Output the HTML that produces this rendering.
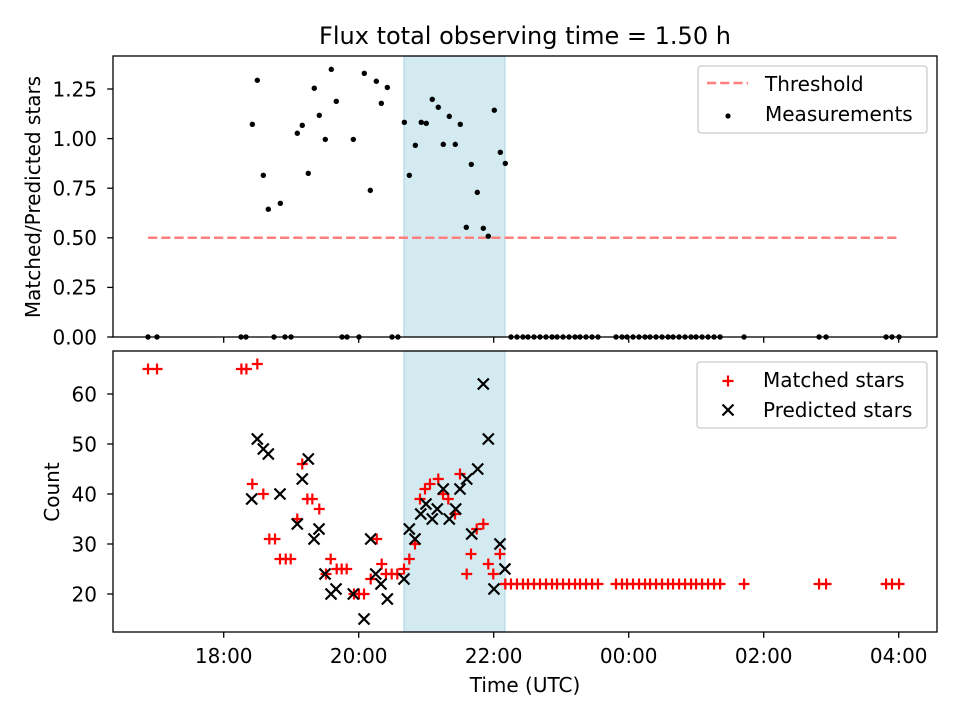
<!DOCTYPE html>
<html><head><meta charset="utf-8">
<style>
body{margin:0;background:#fff;}
svg{display:block;font-family:"DejaVu Sans","Liberation Sans",sans-serif;}
</style></head>
<body>
<svg id="fig" width="960" height="720" viewBox="0 0 960 720" xmlns="http://www.w3.org/2000/svg">
<rect width="960" height="720" fill="#fff"/>
<text x="525" y="44" font-size="24" text-anchor="middle">Flux total observing time = 1.50 h</text>
<g id="gtop"></g>
<g id="gbot"></g>
<text x="525" y="692" font-size="20" text-anchor="middle">Time (UTC)</text>
<text transform="translate(40,197) rotate(-90)" font-size="20" text-anchor="middle">Matched/Predicted stars</text>
<text transform="translate(59,492) rotate(-90)" font-size="20" text-anchor="middle">Count</text>
<g>
<rect x="698" y="66" width="229" height="67" rx="3" fill="#fff" fill-opacity="0.8" stroke="#ccc" stroke-width="1.3"/>
<line x1="707" x2="748" y1="83" y2="83" stroke="#ff7f7f" stroke-width="2.5" stroke-dasharray="9.2,4"/>
<text x="765" y="91" font-size="20">Threshold</text>
<circle cx="728" cy="116" r="2.6" fill="#000"/>
<text x="765" y="121" font-size="20">Measurements</text>
</g>
<g>
<rect x="697" y="362" width="230" height="66" rx="3" fill="#fff" fill-opacity="0.8" stroke="#ccc" stroke-width="1.3"/>
<path d="M722.5,381H733.5M728,375.5V386.5" stroke="#f00" stroke-width="2.2"/>
<text x="763" y="387" font-size="20">Matched stars</text>
<path d="M722.5,404.5L733.5,415.5M722.5,415.5L733.5,404.5" stroke="#000" stroke-width="2.2"/>
<text x="763" y="417" font-size="20">Predicted stars</text>
</g>
</svg>
<script>
// ---- data (hours; >24 = next day) ----
const measTimes = [18.424,18.498,18.587,18.661,18.839,19.090,19.164,19.253,19.342,19.416,19.505,19.594,19.668,19.920,20.083,20.172,20.261,20.335,20.424,20.676,20.750,20.839,20.927,21.001,21.090,21.179,21.253,21.342,21.431,21.505,21.594,21.668,21.757,21.846,21.920,22.009,22.098,22.172];
const measRatios = [1.072,1.294,0.815,0.644,0.674,1.027,1.067,0.825,1.254,1.117,0.996,1.349,1.188,0.996,1.329,0.739,1.289,1.178,1.258,1.082,0.815,0.966,1.082,1.077,1.198,1.158,0.971,1.112,0.971,1.072,0.553,0.870,0.729,0.548,0.508,1.143,0.931,0.875];
const zeroTimes = [16.879,17.012,18.256,18.330,18.745,18.908,18.997,19.753,19.827,20.004,20.493,20.581,22.256,22.345,22.434,22.508,22.597,22.686,22.775,22.864,22.938,23.027,23.116,23.205,23.279,23.368,23.457,23.545,23.812,23.901,23.975,24.064,24.153,24.242,24.316,24.405,24.494,24.583,24.657,24.746,24.835,24.924,24.998,25.087,25.176,25.265,25.354,25.709,26.820,26.924,27.813,27.901,28.005];
const matchedTimes = [16.879,17.012,18.262,18.336,18.498,18.424,18.587,18.676,18.760,18.834,18.919,18.993,19.090,19.164,19.239,19.313,19.416,19.585,19.516,19.674,19.748,19.822,19.930,20.004,20.079,20.267,20.341,20.178,20.404,20.489,20.572,20.671,20.750,20.834,20.908,20.982,21.056,21.179,21.327,21.249,21.427,21.501,21.600,21.664,21.748,21.846,21.920,21.994,22.093,22.172];
const matchedCounts = [65,65,65,65,66,42,40,31,31,27,27,27,35,46,39,39,37,27,24,25,25,25,20,20,20,31,26,23,24,24,24,25,27,30,39,41,42,43,39,40,36,44,24,28,33,34,26,24,28,22];
const lateMatchedCount = 22;
const predTimes = [21.846,21.920,18.498,18.587,18.661,18.415,18.834,19.253,19.164,19.090,19.412,19.338,19.501,19.664,19.590,19.920,20.079,20.178,20.252,20.330,20.424,20.671,20.750,20.834,20.997,20.919,21.090,21.164,21.253,21.342,21.437,21.501,21.600,21.763,21.674,22.004,22.093,22.167];
const predCounts = [62,51,51,49,48,39,40,47,43,34,33,31,24,21,20,20,15,31,24,22,19,23,33,31,38,36,35,37,41,35,37,41,43,45,32,21,30,25];
const threshold = 0.5;
const thrRange = [16.879,28.005];
const obsWindow = [20.671,22.167];
const xTicks = [18,20,22,24,26,28];
const xTickLabels = ["18:00","20:00","22:00","00:00","02:00","04:00"];
const topTicks = [0,0.25,0.5,0.75,1.0,1.25];
const topTickLabels = ["0.00","0.25","0.50","0.75","1.00","1.25"];
const botTicks = [20,30,40,50,60];
const botTickLabels = ["20","30","40","50","60"];

const NS="http://www.w3.org/2000/svg";
const L=113,R=937;
const X=h=>223.7+(h-18)*67.5;
const Yt=v=>337-v*198.4;
const Yb=c=>594-(c-20)*5;
function mk(tag,attrs,parent){const e=document.createElementNS(NS,tag);for(const k in attrs)e.setAttribute(k,attrs[k]);parent.appendChild(e);return e;}
const gTop=document.getElementById('gtop'), gBot=document.getElementById('gbot');

function panel(g,y0,y1){
  const s=mk('rect',{x:X(obsWindow[0]),y:y0,width:X(obsWindow[1])-X(obsWindow[0]),height:y1-y0,fill:'#d4eaf1',stroke:'#b9dbe6','stroke-width':1.3},g);
  
  
}
panel(gTop,56,337);panel(gBot,351,632);

const th=mk('line',{x1:X(thrRange[0]),x2:X(thrRange[1]),y1:Yt(threshold),y2:Yt(threshold),stroke:'#ff7f7f','stroke-width':2.5,'stroke-dasharray':'9.2,4'},gTop);



function dot(g,x,y){const c=mk('circle',{cx:x,cy:y,r:2.7,fill:'#000'},g);
  
  }
measTimes.forEach((t,i)=>dot(gTop,X(t),Yt(measRatios[i])));
zeroTimes.forEach(t=>dot(gTop,X(t),Yt(0)));

function plus(g,x,y){const p=mk('path',{d:`M${x-5.5},${y}H${x+5.5}M${x},${y-5.5}V${y+5.5}`,stroke:'#ff0000','stroke-width':2.2,fill:'none'},g);
  
  }
function cross(g,x,y){const p=mk('path',{d:`M${x-5.5},${y-5.5}L${x+5.5},${y+5.5}M${x-5.5},${y+5.5}L${x+5.5},${y-5.5}`,stroke:'#000','stroke-width':2.2,fill:'none'},g);
  
  }
matchedTimes.forEach((t,i)=>plus(gBot,X(t),Yb(matchedCounts[i])));
zeroTimes.filter(t=>t>22.2).forEach(t=>plus(gBot,X(t),Yb(lateMatchedCount)));
predTimes.forEach((t,i)=>cross(gBot,X(t),Yb(predCounts[i])));

function axes(g,y0,y1,yt,ylab,yfn,name){
  const f=mk('rect',{x:L,y:y0,width:R-L,height:y1-y0,fill:'none',stroke:'#000','stroke-width':1.3},g);
  
  
  xTicks.forEach(h=>mk('line',{x1:X(h),x2:X(h),y1:y1,y2:y1+5.8,stroke:'#000','stroke-width':1.3},g));
  yt.forEach((v,i)=>{mk('line',{x1:L-5.8,x2:L,y1:yfn(v),y2:yfn(v),stroke:'#000','stroke-width':1.3},g);
    const t=mk('text',{x:L-16,y:yfn(v)+7.3,'font-size':20,'text-anchor':'end'},g);t.textContent=ylab[i];
    
    });
}
axes(gTop,56,337,topTicks,topTickLabels,Yt,'ratio-panel');
axes(gBot,351,632,botTicks,botTickLabels,Yb,'count-panel');
xTicks.forEach((h,i)=>{const t=mk('text',{x:X(h),y:663,'font-size':20,'text-anchor':'middle'},gBot);t.textContent=xTickLabels[i];
  
  });
</script>
</body></html>
